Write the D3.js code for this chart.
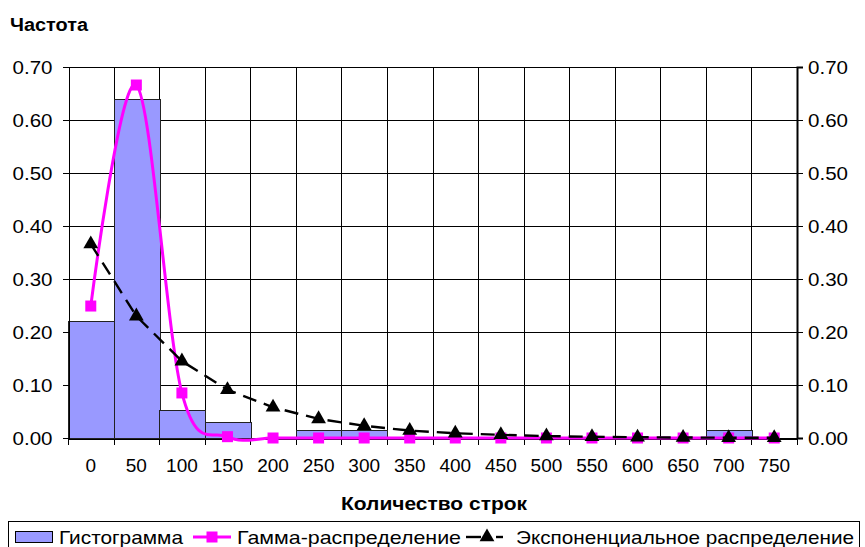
<!DOCTYPE html>
<html>
<head>
<meta charset="utf-8">
<script src="https://cdn.jsdelivr.net/npm/d3@7/dist/d3.min.js"></script>
<style>
  html, body { margin: 0; padding: 0; background: #fff; }
  svg { display: block; font-family: "Liberation Sans", Arial, sans-serif; }
</style>
</head>
<body>
<svg id="chart" width="865" height="547"></svg>
<script>
// Row-count bins (lower bound of each 50-row interval)
const categories = ["0","50","100","150","200","250","300","350","400","450","500","550","600","650","700","750"];
// Observed relative frequency
const histogram = [0.22, 0.64, 0.053, 0.03, 0, 0.015, 0.015, 0, 0, 0, 0, 0, 0, 0, 0.015, 0];
// Fitted gamma distribution
const gamma = [0.249, 0.666, 0.085, 0.0025, 0, 0, 0, 0, 0, 0, 0, 0, 0, 0, 0, 0];
// Fitted exponential distribution
const exponential = [0.366, 0.230, 0.145, 0.091, 0.058, 0.036, 0.023, 0.014, 0.009, 0.006, 0.0036, 0.0023, 0.0014, 0.0009, 0.0006, 0.0004];
const yTicks = [0, 0.1, 0.2, 0.3, 0.4, 0.5, 0.6, 0.7];

const svg = d3.select("#chart");
const plotLeft = 68, plotRight = 797, plotTop = 67, plotBottom = 438;

const x = d3.scaleBand().domain(categories).range([plotLeft, plotRight]).padding(0);
const y = d3.scaleLinear().domain([0, 0.7]).range([plotBottom, plotTop]);
const cx = c => x(c) + x.bandwidth() / 2;
const crisp = v => Math.round(v) + 0.5;

// Grid
const grid = svg.append("g").attr("shape-rendering", "crispEdges");
grid.selectAll("line.h").data(yTicks).join("line")
  .attr("x1", plotLeft).attr("x2", plotRight)
  .attr("y1", d => crisp(y(d))).attr("y2", d => crisp(y(d)))
  .attr("stroke", "#000").attr("stroke-width", 1);
grid.selectAll("line.v").data(categories.slice(1)).join("line")
  .attr("x1", d => crisp(x(d))).attr("x2", d => crisp(x(d)))
  .attr("y1", plotTop).attr("y2", plotBottom)
  .attr("stroke", "#000").attr("stroke-width", 1);

// Histogram bars
svg.append("g").attr("shape-rendering", "crispEdges")
  .selectAll("rect").data(categories).join("rect")
  .attr("x", c => crisp(x(c)))
  .attr("y", (c, i) => crisp(y(histogram[i])))
  .attr("width", x.bandwidth())
  .attr("height", (c, i) => Math.max(0, y(0) - y(histogram[i])))
  .attr("fill", "#9999FF")
  .attr("stroke", (c, i) => histogram[i] > 0 ? "#222" : "none")
  .attr("stroke-width", 1);

// Axes
const axisText = g => g.selectAll("text")
  .attr("font-family", "'Liberation Sans', Arial, sans-serif")
  .attr("font-size", 19).attr("fill", "#000");

const yLeft = svg.append("g")
  .attr("transform", `translate(${crisp(plotLeft)},0)`)
  .call(d3.axisLeft(y).tickValues(yTicks).tickFormat(d3.format(".2f")).tickSize(6).tickPadding(10))
  .call(axisText);
yLeft.selectAll("text").attr("textLength", 40).attr("lengthAdjust", "spacingAndGlyphs");
yLeft.selectAll("line, path").attr("stroke", "#000").attr("shape-rendering", "crispEdges");

const yRight = svg.append("g")
  .attr("transform", `translate(${plotRight},0)`)
  .call(d3.axisRight(y).tickValues(yTicks).tickFormat(d3.format(".2f")).tickSize(6).tickPadding(5))
  .call(axisText);
yRight.selectAll("text").attr("textLength", 40).attr("lengthAdjust", "spacingAndGlyphs");
yRight.selectAll("line").attr("stroke", "#000").attr("shape-rendering", "crispEdges");
yRight.select("path").attr("stroke", "#000").attr("stroke-width", 2);

const xAxis = svg.append("g")
  .attr("transform", `translate(0,${crisp(plotBottom)})`)
  .call(d3.axisBottom(x).tickSize(0).tickPadding(20))
  .call(axisText);
xAxis.select("path").attr("stroke", "#000").attr("shape-rendering", "crispEdges");
// Tick marks sit on the bin boundaries
xAxis.selectAll("line.bound").data(categories.concat(["end"])).join("line")
  .attr("class", "bound")
  .attr("x1", (c, i) => crisp(i < categories.length ? x(c) : plotRight))
  .attr("x2", (c, i) => crisp(i < categories.length ? x(c) : plotRight))
  .attr("y1", 0).attr("y2", 6)
  .attr("stroke", "#000").attr("shape-rendering", "crispEdges");

// Gamma distribution (smoothed line with square markers)
const smooth = d3.line().x((d, i) => cx(categories[i])).y(d => y(d)).curve(d3.curveCardinal.tension(0));
svg.append("path").datum(gamma)
  .attr("d", smooth).attr("fill", "none")
  .attr("stroke", "#FF00FF").attr("stroke-width", 3);
svg.append("g").selectAll("rect").data(gamma).join("rect")
  .attr("x", (d, i) => cx(categories[i]) - 5.5)
  .attr("y", d => y(d) - 5.5)
  .attr("width", 11).attr("height", 11)
  .attr("fill", "#FF00FF");

// Exponential distribution (dashed line with triangle markers)
const straight = d3.line().x((d, i) => cx(categories[i])).y(d => y(d));
svg.append("path").datum(exponential)
  .attr("d", straight).attr("fill", "none")
  .attr("stroke", "#000").attr("stroke-width", 2.4)
  .attr("stroke-dasharray", "14,8");
const tri = d3.symbol().type(d3.symbolTriangle).size(95);
svg.append("g").selectAll("path").data(exponential).join("path")
  .attr("d", tri)
  .attr("transform", (d, i) => `translate(${cx(categories[i])},${y(d)})`)
  .attr("fill", "#000");

// Titles
svg.append("text").attr("x", 10).attr("y", 31)
  .attr("font-size", 18).attr("font-weight", "bold")
  .attr("textLength", 78).attr("lengthAdjust", "spacingAndGlyphs").text("Частота");
svg.append("text").attr("x", 434).attr("y", 510).attr("text-anchor", "middle")
  .attr("font-size", 18).attr("font-weight", "bold")
  .attr("textLength", 186).attr("lengthAdjust", "spacingAndGlyphs").text("Количество строк");

// Legend
const lg = svg.append("g");
lg.append("rect").attr("x", 8.5).attr("y", 521.5).attr("width", 851).attr("height", 30)
  .attr("fill", "#fff").attr("stroke", "#000").attr("stroke-width", 1);
const ly = 537;
lg.append("rect").attr("x", 15.5).attr("y", ly - 5.5).attr("width", 37).attr("height", 11)
  .attr("fill", "#9999FF").attr("stroke", "#000");
lg.append("text").attr("x", 59).attr("y", ly + 7).attr("font-size", 19)
  .attr("textLength", 124).attr("lengthAdjust", "spacingAndGlyphs").text("Гистограмма");
lg.append("line").attr("x1", 193).attr("x2", 231).attr("y1", ly).attr("y2", ly)
  .attr("stroke", "#FF00FF").attr("stroke-width", 3);
lg.append("rect").attr("x", 206.5).attr("y", ly - 5.5).attr("width", 11).attr("height", 11)
  .attr("fill", "#FF00FF");
lg.append("text").attr("x", 237).attr("y", ly + 7).attr("font-size", 19)
  .attr("textLength", 224).attr("lengthAdjust", "spacingAndGlyphs").text("Гамма-распределение");
lg.append("line").attr("x1", 466).attr("x2", 481).attr("y1", ly).attr("y2", ly)
  .attr("stroke", "#000").attr("stroke-width", 2.4);
lg.append("line").attr("x1", 496).attr("x2", 503).attr("y1", ly).attr("y2", ly)
  .attr("stroke", "#000").attr("stroke-width", 2.4);
lg.append("path").attr("d", tri).attr("transform", `translate(487,${ly})`).attr("fill", "#000");
lg.append("text").attr("x", 516).attr("y", ly + 7).attr("font-size", 19)
  .attr("textLength", 338).attr("lengthAdjust", "spacingAndGlyphs").text("Экспоненциальное распределение");
</script>
</body>
</html>
